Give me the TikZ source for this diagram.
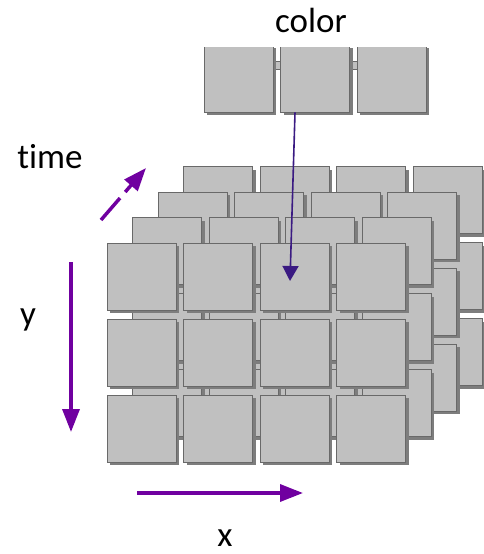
\documentclass[tikz,border=0pt]{standalone}
\usepackage{fontspec}
\setmainfont{Carlito}[Ligatures=NoCommon]
\usepackage{tikz}
\usetikzlibrary{arrows.meta,positioning,shadows}
\definecolor{tilegray}{RGB}{192,192,192}
\definecolor{tileedge}{RGB}{105,105,105}
\definecolor{tileshade}{RGB}{125,125,125}
\definecolor{axispurple}{RGB}{112,0,160}
\definecolor{colorindigo}{RGB}{58,26,130}

\begin{document}
\begin{tikzpicture}[
  x=1pt, y=-1pt,
  font=\fontsize{35}{40}\selectfont,
  tile/.style={draw=tileedge, fill=tilegray, line width=0.8pt, minimum width=69pt, minimum height=67pt, inner sep=0pt,
    drop shadow={shadow xshift=3pt, shadow yshift=-3pt, fill=tileshade, opacity=1}},
  axis/.style={-{Triangle[length=23pt,width=17pt]}, line width=3.5pt, axispurple}
]
\useasboundingbox (0,0) rectangle (483,554);
\foreach \l in {3,2,1,0}
  \foreach \c in {0,1,2,3}
    \foreach \r in {0,1,2}
      \node[tile] (t-\l-\c-\r) at ({141.5+76.5*\c+25.5*\l},{276.5+76*\r-25.5*\l}) {};
\begin{scope}
\clip (0,47) rectangle (483,554);
\filldraw[fill=tilegray, draw=tileedge, line width=0.8pt] (210,61) rectangle (428,69);
\foreach \c in {0,1,2}
  \node[tile] (c-\c) at ({238.5+76.5*\c},78.5) {};
\end{scope}
\node[anchor=base] (colorlabel) at (311,32) {color};
\node[anchor=base] (timelabel) at (50,168) {time};
\node[anchor=base] (ylabel) at (28,325) {y};
\node[anchor=base] (xlabel) at (225,546) {x};
\coordinate (ytop) at (71,262);
\coordinate (ybot) at (71,432);
\coordinate (xleft) at (137,493);
\coordinate (xright) at (303,493);
\coordinate (tstart) at (101,220);
\coordinate (tend) at (146,168);
\draw[axis] (ytop) -- (ybot);
\draw[axis] (xleft) -- (xright);
\draw[axis, dash pattern=on 29pt off 8pt on 100pt] (tstart) -- (tend);
\draw[-{Triangle[length=15pt,width=16pt]}, line width=1.6pt, colorindigo] ([xshift=-20pt]c-1.south) -- ([xshift=-4.5pt,yshift=-4.5pt]t-0-2-0.center);
\end{tikzpicture}
\end{document}
